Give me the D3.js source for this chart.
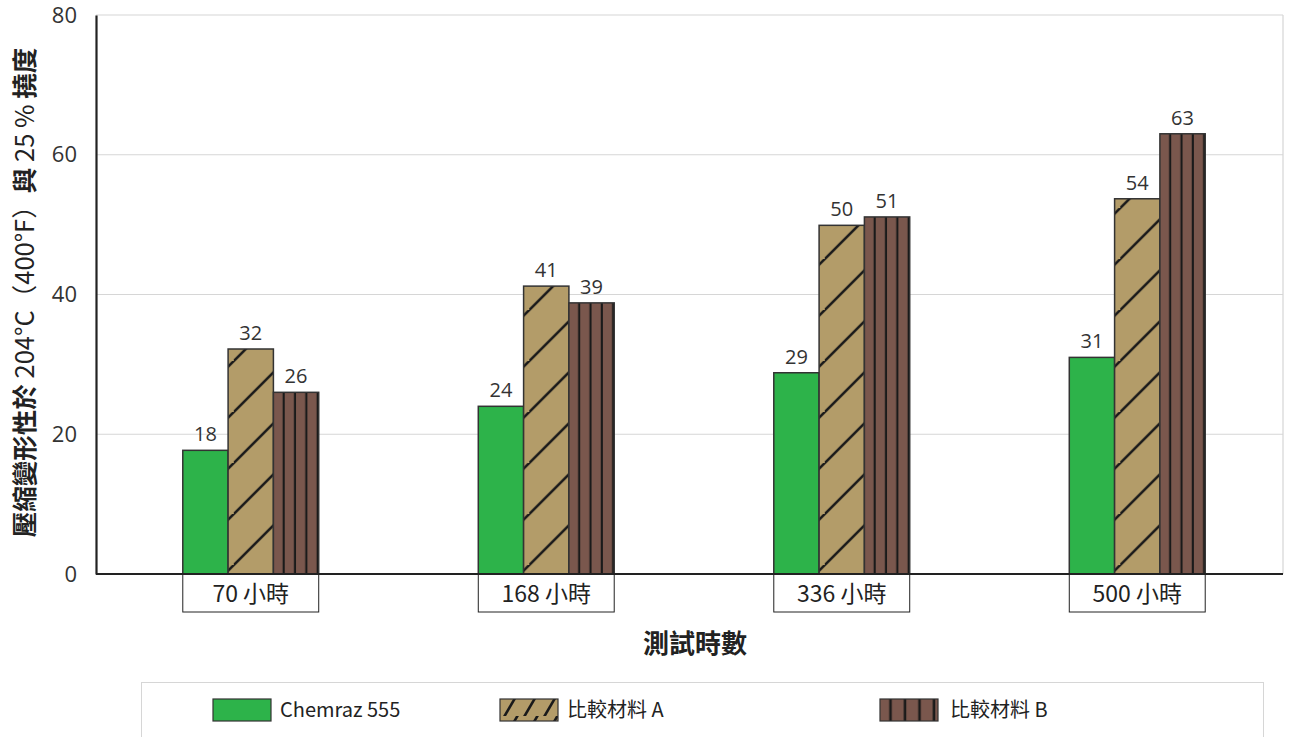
<!DOCTYPE html>
<html>
<head>
<meta charset="utf-8">
<script src="https://cdn.jsdelivr.net/npm/d3@7"></script>
<style>
  body { margin: 0; background: #fff; }
  svg { display: block; }
</style>
</head>
<body>
<svg id="chart" width="1293" height="737"></svg>
<script>
// data
var hours = ["70 小時", "168 小時", "336 小時", "500 小時"];
var seriesNames = ["Chemraz 555", "比較材料 A", "比較材料 B"];
var chemraz = [17.7, 24, 28.8, 31];
var materialA = [32.2, 41.2, 49.9, 53.7];
var materialB = [26, 38.8, 51.1, 63];
var yTicks = [0, 20, 40, 60, 80];

var series = [chemraz, materialA, materialB];
var fills = ["#2db34a", "url(#hatchA)", "url(#stripeB)"];

var svg = d3.select("#chart");
var font = "'Liberation Sans Narrow', 'Noto Sans CJK TC', sans-serif";
var numFont = "'Open Sans', 'Liberation Sans', sans-serif";

var plotLeft = 96, plotRight = 1283, plotTop = 15, plotBottom = 574;

var y = d3.scaleLinear().domain([0, 80]).range([plotBottom, plotTop]);
var x0 = d3.scaleBand().domain(hours).range([103, 1285]).paddingInner(0.54).paddingOuter(0.27);
var x1 = d3.scaleBand().domain([0, 1, 2]).range([0, x0.bandwidth()]);

// patterns
var defs = svg.append("defs");
var pa = defs.append("pattern").attr("id", "hatchA")
    .attr("patternUnits", "userSpaceOnUse")
    .attr("width", 51).attr("height", 51)
    .attr("y", 4);
pa.append("rect").attr("width", 51).attr("height", 51).attr("fill", "#b39c69");
pa.append("path").attr("d", "M-5,56 L56,-5 M-56,56 L5,-5 M46,107 L107,46")
    .attr("stroke", "#1a1a1a").attr("stroke-width", 2.6);

var pb = defs.append("pattern").attr("id", "stripeB")
    .attr("patternUnits", "objectBoundingBox")
    .attr("width", 0.25).attr("height", 1);
pb.append("rect").attr("width", 60).attr("height", 2000).attr("fill", "#7a574d");
pb.append("line").attr("x1", 10.5).attr("x2", 10.5).attr("y1", 0).attr("y2", 2000)
    .attr("stroke", "#1a1a1a").attr("stroke-width", 2.6);

var pl = defs.append("pattern").attr("id", "hatchLegend")
    .attr("patternUnits", "userSpaceOnUse")
    .attr("width", 20).attr("height", 22).attr("x", 503).attr("y", 699);
pl.append("rect").attr("width", 20).attr("height", 22).attr("fill", "#b39c69");
pl.append("path").attr("d", "M1,23 L15,-1")
    .attr("stroke", "#1a1a1a").attr("stroke-width", 2.6);

// gridlines
svg.append("g").selectAll("line")
    .data(yTicks.slice(1))
    .join("line")
    .attr("x1", plotLeft).attr("x2", plotRight)
    .attr("y1", d => y(d)).attr("y2", d => y(d))
    .attr("stroke", "#d6d6d6").attr("stroke-width", 1.2);
svg.append("line")
    .attr("x1", plotRight).attr("x2", plotRight).attr("y1", y(80)).attr("y2", plotBottom)
    .attr("stroke", "#d6d6d6").attr("stroke-width", 1.2);

// y axis
var yAxis = svg.append("g")
    .attr("transform", "translate(" + plotLeft + ",0)")
    .call(d3.axisLeft(y).tickValues(yTicks).tickSize(0).tickPadding(19));
yAxis.select(".domain").attr("stroke", "#222").attr("stroke-width", 2.2);
yAxis.selectAll("text")
    .attr("font-family", numFont)
    .attr("font-size", 22).attr("fill", "#333");

// bars
var groups = svg.append("g").selectAll("g")
    .data(hours)
    .join("g")
    .attr("transform", d => "translate(" + x0(d) + ",0)");

groups.selectAll("rect")
    .data((d, i) => series.map((s, k) => ({ k: k, v: s[i] })))
    .join("rect")
    .attr("x", d => x1(d.k))
    .attr("y", d => y(d.v))
    .attr("width", x1.bandwidth())
    .attr("height", d => plotBottom - y(d.v))
    .attr("fill", d => fills[d.k])
    .attr("stroke", "#333").attr("stroke-width", 1.5);

groups.selectAll("text.val")
    .data((d, i) => series.map((s, k) => ({ k: k, v: s[i] })))
    .join("text")
    .attr("class", "val")
    .attr("x", d => x1(d.k) + x1.bandwidth() / 2)
    .attr("y", d => y(d.v) - 9)
    .attr("text-anchor", "middle")
    .attr("font-family", numFont)
    .attr("font-size", 20).attr("fill", "#333")
    .text(d => Math.round(d.v));

// x axis line
svg.append("line")
    .attr("x1", plotLeft).attr("x2", plotRight).attr("y1", plotBottom).attr("y2", plotBottom)
    .attr("stroke", "#222").attr("stroke-width", 2.2);

// category boxes
groups.append("rect")
    .attr("x", 0).attr("y", plotBottom)
    .attr("width", x0.bandwidth()).attr("height", 38)
    .attr("fill", "#fff").attr("stroke", "#222").attr("stroke-width", 1);
groups.append("text")
    .attr("x", x0.bandwidth() / 2).attr("y", plotBottom + 28)
    .attr("text-anchor", "middle")
    .attr("font-family", "'Noto Sans CJK TC', sans-serif")
    .attr("font-size", 23).attr("fill", "#222")
    .text(d => d);

// axis titles
var yTitle = svg.append("text")
    .attr("transform", "translate(34," + ((plotTop + plotBottom) / 2 - 2) + ") rotate(-90)")
    .attr("text-anchor", "middle")
    .attr("font-family", "'Noto Sans CJK TC', sans-serif")
    .attr("font-size", 25.5).attr("fill", "#222");
yTitle.append("tspan").attr("font-weight", "bold").text("壓縮變形性於 ");
yTitle.append("tspan").attr("font-weight", "normal").text("204°C（400°F）");
yTitle.append("tspan").attr("font-weight", "bold").text("與 ");
yTitle.append("tspan").attr("font-weight", "normal").text("25 % ");
yTitle.append("tspan").attr("font-weight", "bold").text("撓度");

svg.append("text")
    .attr("x", 695).attr("y", 653)
    .attr("text-anchor", "middle")
    .attr("font-family", "'Noto Sans CJK TC', sans-serif")
    .attr("font-weight", "bold")
    .attr("font-size", 26).attr("fill", "#222")
    .text("測試時數");

// legend
svg.append("rect")
    .attr("x", 141.5).attr("y", 682.5).attr("width", 1122).attr("height", 70)
    .attr("fill", "#fff").attr("stroke", "#d6d6d6").attr("stroke-width", 1);

var legendX = [213, 500, 880];
var legendFills = ["#2db34a", "url(#hatchLegend)", "url(#stripeB)"];
var leg = svg.append("g").selectAll("g")
    .data(seriesNames)
    .join("g")
    .attr("transform", (d, i) => "translate(" + legendX[i] + ",699)");
leg.append("rect")
    .attr("width", 58).attr("height", 22)
    .attr("fill", (d, i) => legendFills[i])
    .attr("stroke", "#333").attr("stroke-width", 1.2);
leg.append("text")
    .attr("x", (d, i) => i === 2 ? 70 : 67).attr("y", 18)
    .attr("font-family", font)
    .attr("font-size", 20).attr("fill", "#222")
    .text(d => d);
</script>
</body>
</html>
